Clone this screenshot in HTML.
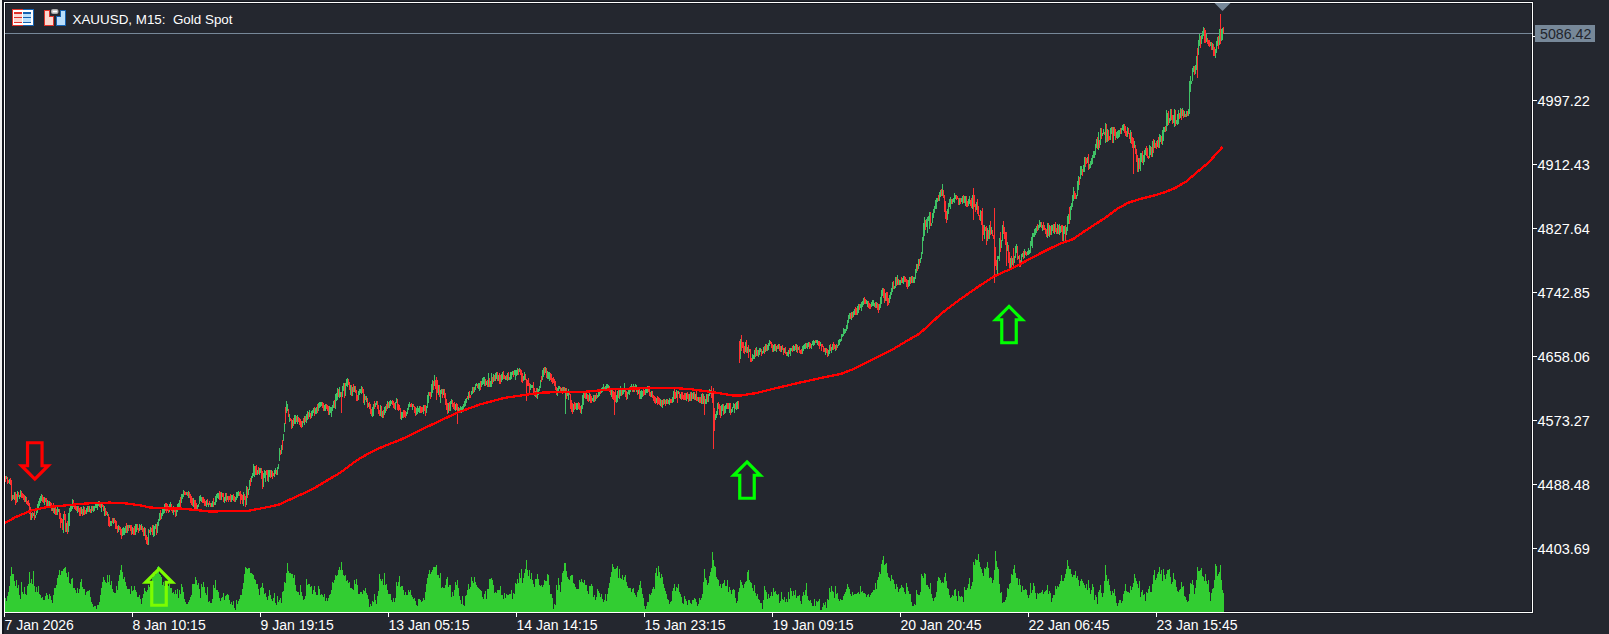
<!DOCTYPE html>
<html><head><meta charset="utf-8"><style>
html,body{margin:0;padding:0;background:#24272f;width:1609px;height:634px;overflow:hidden}
svg{display:block}
</style></head><body><svg width="1609" height="634" viewBox="0 0 1609 634">
<rect x="0" y="0" width="1609" height="634" fill="#24272f"/>
<rect x="0" y="0" width="2" height="634" fill="#f0f0f0"/>
<rect x="2" y="0" width="2" height="634" fill="#13161d"/>
<g shape-rendering="crispEdges">
<rect x="4" y="1" width="1530" height="1" fill="#15181f"/>
<rect x="5" y="3" width="1526" height="1" fill="#13161d"/>
<rect x="5" y="3" width="1" height="608" fill="#13161d"/>
<rect x="1531" y="3" width="1" height="609" fill="#13161d"/>
<rect x="5" y="611" width="1527" height="1" fill="#13161d"/>
<rect x="1533" y="1" width="1" height="613" fill="#1a1d24"/>
<rect x="4" y="613" width="1530" height="1" fill="#1a1d24"/>
</g>
<rect x="5" y="33" width="1527" height="1" fill="#778899" shape-rendering="crispEdges"/>
<path d="M5.5 598V612M6.5 601V612M7.5 596V612M8.5 592V612M9.5 586V612M10.5 576V612M11.5 567V612M12.5 574V612M13.5 574V612M14.5 581V612M15.5 586V612M16.5 580V612M17.5 588V612M18.5 585V612M19.5 595V612M20.5 599V612M21.5 582V612M22.5 592V612M23.5 594V612M24.5 587V612M25.5 594V612M26.5 595V612M27.5 586V612M28.5 584V612M29.5 572V612M30.5 583V612M31.5 579V612M32.5 584V612M33.5 571V612M34.5 586V612M35.5 592V612M36.5 587V612M37.5 592V612M38.5 586V612M39.5 594V612M40.5 595V612M41.5 598V612M42.5 597V612M43.5 600V612M44.5 600V612M45.5 596V612M46.5 593V612M47.5 595V612M48.5 599V612M49.5 594V612M50.5 596V612M51.5 600V612M52.5 603V612M53.5 595V612M54.5 588V612M55.5 588V612M56.5 585V612M57.5 578V612M58.5 575V612M59.5 570V612M60.5 575V612M61.5 571V612M62.5 571V612M63.5 569V612M64.5 568V612M65.5 567V612M66.5 573V612M67.5 577V612M68.5 572V612M69.5 583V612M70.5 584V612M71.5 579V612M72.5 578V612M73.5 588V612M74.5 588V612M75.5 590V612M76.5 593V612M77.5 588V612M78.5 593V612M79.5 589V612M80.5 582V612M81.5 579V612M82.5 587V612M83.5 589V612M84.5 589V612M85.5 595V612M86.5 592V612M87.5 591V612M88.5 591V612M89.5 590V612M90.5 597V612M91.5 602V612M92.5 604V612M93.5 607V612M94.5 606V612M95.5 606V612M96.5 609V612M97.5 605V612M98.5 605V612M99.5 602V612M100.5 595V612M101.5 588V612M102.5 582V612M103.5 577V612M104.5 580V612M105.5 582V612M106.5 583V612M107.5 575V612M108.5 582V612M109.5 575V612M110.5 585V612M111.5 581V612M112.5 589V612M113.5 592V612M114.5 593V612M115.5 593V612M116.5 586V612M117.5 590V612M118.5 581V612M119.5 575V612M120.5 570V612M121.5 565V612M122.5 572V612M123.5 579V612M124.5 577V612M125.5 582V612M126.5 586V612M127.5 589V612M128.5 589V612M129.5 589V612M130.5 594V612M131.5 586V612M132.5 591V612M133.5 590V612M134.5 586V612M135.5 590V612M136.5 592V612M137.5 597V612M138.5 597V612M139.5 595V612M140.5 599V612M141.5 604V612M142.5 598V612M143.5 594V612M144.5 588V612M145.5 591V612M146.5 592V612M147.5 590V612M148.5 585V612M149.5 587V612M150.5 583V612M151.5 582V612M152.5 578V612M153.5 572V612M154.5 574V612M155.5 575V612M156.5 572V612M157.5 567V612M158.5 566V612M159.5 574V612M160.5 575V612M161.5 577V612M162.5 585V612M163.5 582V612M164.5 586V612M165.5 590V612M166.5 584V612M167.5 585V612M168.5 586V612M169.5 584V612M170.5 588V612M171.5 588V612M172.5 593V612M173.5 592V612M174.5 594V612M175.5 590V612M176.5 594V612M177.5 589V612M178.5 598V612M179.5 590V612M180.5 594V612M181.5 584V612M182.5 587V612M183.5 592V612M184.5 599V612M185.5 602V612M186.5 604V612M187.5 604V612M188.5 602V612M189.5 600V612M190.5 597V612M191.5 595V612M192.5 584V612M193.5 584V612M194.5 584V612M195.5 577V612M196.5 580V612M197.5 585V612M198.5 583V612M199.5 589V612M200.5 598V612M201.5 584V612M202.5 587V612M203.5 582V612M204.5 587V612M205.5 593V612M206.5 595V612M207.5 587V612M208.5 602V612M209.5 601V612M210.5 603V612M211.5 603V612M212.5 599V612M213.5 585V612M214.5 588V612M215.5 580V612M216.5 590V612M217.5 590V612M218.5 592V612M219.5 598V612M220.5 601V612M221.5 598V612M222.5 597V612M223.5 593V612M224.5 600V612M225.5 596V612M226.5 595V612M227.5 594V612M228.5 595V612M229.5 600V612M230.5 604V612M231.5 602V612M232.5 605V612M233.5 601V612M234.5 608V612M235.5 610V612M236.5 600V612M237.5 604V612M238.5 601V612M239.5 599V612M240.5 595V612M241.5 595V612M242.5 589V612M243.5 583V612M244.5 574V612M245.5 567V612M246.5 568V612M247.5 569V612M248.5 568V612M249.5 568V612M250.5 573V612M251.5 573V612M252.5 574V612M253.5 575V612M254.5 579V612M255.5 580V612M256.5 584V612M257.5 584V612M258.5 589V612M259.5 595V612M260.5 588V612M261.5 587V612M262.5 583V612M263.5 588V612M264.5 594V612M265.5 593V612M266.5 597V612M267.5 600V612M268.5 596V612M269.5 590V612M270.5 595V612M271.5 599V612M272.5 601V612M273.5 598V612M274.5 593V612M275.5 603V612M276.5 605V612M277.5 596V612M278.5 602V612M279.5 600V612M280.5 598V612M281.5 603V612M282.5 592V612M283.5 591V612M284.5 582V612M285.5 583V612M286.5 573V612M287.5 563V612M288.5 571V612M289.5 573V612M290.5 573V612M291.5 574V612M292.5 574V612M293.5 578V612M294.5 575V612M295.5 585V612M296.5 591V612M297.5 592V612M298.5 592V612M299.5 595V612M300.5 585V612M301.5 592V612M302.5 596V612M303.5 600V612M304.5 599V612M305.5 596V612M306.5 579V612M307.5 585V612M308.5 584V612M309.5 584V612M310.5 587V612M311.5 586V612M312.5 594V612M313.5 590V612M314.5 586V612M315.5 592V612M316.5 595V612M317.5 595V612M318.5 586V612M319.5 589V612M320.5 595V612M321.5 594V612M322.5 595V612M323.5 597V612M324.5 594V612M325.5 601V612M326.5 598V612M327.5 601V612M328.5 598V612M329.5 595V612M330.5 594V612M331.5 590V612M332.5 582V612M333.5 583V612M334.5 580V612M335.5 575V612M336.5 576V612M337.5 575V612M338.5 570V612M339.5 567V612M340.5 570V612M341.5 562V612M342.5 570V612M343.5 575V612M344.5 576V612M345.5 575V612M346.5 581V612M347.5 580V612M348.5 583V612M349.5 582V612M350.5 588V612M351.5 588V612M352.5 589V612M353.5 590V612M354.5 580V612M355.5 584V612M356.5 579V612M357.5 585V612M358.5 594V612M359.5 594V612M360.5 592V612M361.5 592V612M362.5 594V612M363.5 590V612M364.5 591V612M365.5 588V612M366.5 593V612M367.5 595V612M368.5 599V612M369.5 607V612M370.5 604V612M371.5 606V612M372.5 601V612M373.5 602V612M374.5 594V612M375.5 600V612M376.5 604V612M377.5 596V612M378.5 591V612M379.5 574V612M380.5 579V612M381.5 581V612M382.5 579V612M383.5 585V612M384.5 573V612M385.5 585V612M386.5 584V612M387.5 590V612M388.5 594V612M389.5 594V612M390.5 594V612M391.5 600V612M392.5 602V612M393.5 598V612M394.5 602V612M395.5 598V612M396.5 582V612M397.5 586V612M398.5 582V612M399.5 576V612M400.5 587V612M401.5 586V612M402.5 586V612M403.5 590V612M404.5 595V612M405.5 592V612M406.5 595V612M407.5 595V612M408.5 590V612M409.5 592V612M410.5 590V612M411.5 595V612M412.5 597V612M413.5 599V612M414.5 598V612M415.5 601V612M416.5 605V612M417.5 606V612M418.5 599V612M419.5 599V612M420.5 600V612M421.5 602V612M422.5 601V612M423.5 598V612M424.5 600V612M425.5 592V612M426.5 584V612M427.5 578V612M428.5 574V612M429.5 570V612M430.5 574V612M431.5 572V612M432.5 570V612M433.5 567V612M434.5 567V612M435.5 567V612M436.5 565V612M437.5 575V612M438.5 575V612M439.5 578V612M440.5 573V612M441.5 588V612M442.5 587V612M443.5 588V612M444.5 588V612M445.5 585V612M446.5 579V612M447.5 577V612M448.5 587V612M449.5 585V612M450.5 585V612M451.5 597V612M452.5 592V612M453.5 596V612M454.5 590V612M455.5 582V612M456.5 585V612M457.5 580V612M458.5 588V612M459.5 596V612M460.5 600V612M461.5 604V612M462.5 596V612M463.5 605V612M464.5 606V612M465.5 596V612M466.5 595V612M467.5 590V612M468.5 584V612M469.5 589V612M470.5 587V612M471.5 577V612M472.5 581V612M473.5 583V612M474.5 577V612M475.5 582V612M476.5 585V612M477.5 587V612M478.5 588V612M479.5 589V612M480.5 590V612M481.5 591V612M482.5 597V612M483.5 599V612M484.5 594V612M485.5 591V612M486.5 599V612M487.5 589V612M488.5 589V612M489.5 579V612M490.5 579V612M491.5 578V612M492.5 580V612M493.5 585V612M494.5 593V612M495.5 592V612M496.5 593V612M497.5 590V612M498.5 590V612M499.5 590V612M500.5 586V612M501.5 595V612M502.5 595V612M503.5 599V612M504.5 593V612M505.5 598V612M506.5 594V612M507.5 595V612M508.5 595V612M509.5 594V612M510.5 594V612M511.5 590V612M512.5 599V612M513.5 593V612M514.5 594V612M515.5 583V612M516.5 584V612M517.5 579V612M518.5 583V612M519.5 573V612M520.5 578V612M521.5 569V612M522.5 583V612M523.5 578V612M524.5 573V612M525.5 569V612M526.5 560V612M527.5 570V612M528.5 576V612M529.5 570V612M530.5 579V612M531.5 573V612M532.5 580V612M533.5 584V612M534.5 587V612M535.5 579V612M536.5 579V612M537.5 574V612M538.5 579V612M539.5 585V612M540.5 586V612M541.5 585V612M542.5 587V612M543.5 585V612M544.5 580V612M545.5 581V612M546.5 581V612M547.5 574V612M548.5 575V612M549.5 585V612M550.5 594V612M551.5 594V612M552.5 598V612M553.5 609V612M554.5 604V612M555.5 605V612M556.5 585V612M557.5 590V612M558.5 578V612M559.5 585V612M560.5 592V612M561.5 582V612M562.5 573V612M563.5 571V612M564.5 563V612M565.5 563V612M566.5 571V612M567.5 577V612M568.5 579V612M569.5 580V612M570.5 576V612M571.5 575V612M572.5 575V612M573.5 583V612M574.5 584V612M575.5 587V612M576.5 589V612M577.5 589V612M578.5 589V612M579.5 580V612M580.5 582V612M581.5 579V612M582.5 582V612M583.5 583V612M584.5 580V612M585.5 585V612M586.5 585V612M587.5 591V612M588.5 594V612M589.5 586V612M590.5 586V612M591.5 584V612M592.5 586V612M593.5 597V612M594.5 595V612M595.5 600V612M596.5 597V612M597.5 589V612M598.5 591V612M599.5 593V612M600.5 597V612M601.5 594V612M602.5 599V612M603.5 602V612M604.5 600V612M605.5 594V612M606.5 601V612M607.5 594V612M608.5 588V612M609.5 583V612M610.5 577V612M611.5 572V612M612.5 564V612M613.5 567V612M614.5 569V612M615.5 569V612M616.5 568V612M617.5 566V612M618.5 578V612M619.5 569V612M620.5 578V612M621.5 579V612M622.5 575V612M623.5 580V612M624.5 577V612M625.5 575V612M626.5 582V612M627.5 586V612M628.5 588V612M629.5 588V612M630.5 588V612M631.5 592V612M632.5 589V612M633.5 588V612M634.5 593V612M635.5 595V612M636.5 597V612M637.5 592V612M638.5 590V612M639.5 585V612M640.5 581V612M641.5 588V612M642.5 594V612M643.5 598V612M644.5 606V612M645.5 609V612M646.5 606V612M647.5 602V612M648.5 602V612M649.5 594V612M650.5 595V612M651.5 593V612M652.5 589V612M653.5 587V612M654.5 589V612M655.5 573V612M656.5 568V612M657.5 576V612M658.5 566V612M659.5 572V612M660.5 578V612M661.5 574V612M662.5 577V612M663.5 584V612M664.5 588V612M665.5 591V612M666.5 594V612M667.5 599V612M668.5 600V612M669.5 604V612M670.5 602V612M671.5 601V612M672.5 591V612M673.5 588V612M674.5 584V612M675.5 591V612M676.5 587V612M677.5 588V612M678.5 584V612M679.5 592V612M680.5 594V612M681.5 597V612M682.5 603V612M683.5 604V612M684.5 596V612M685.5 599V612M686.5 601V612M687.5 605V612M688.5 600V612M689.5 600V612M690.5 603V612M691.5 604V612M692.5 600V612M693.5 600V612M694.5 598V612M695.5 599V612M696.5 602V612M697.5 606V612M698.5 604V612M699.5 598V612M700.5 600V612M701.5 598V612M702.5 594V612M703.5 582V612M704.5 569V612M705.5 578V612M706.5 580V612M707.5 585V612M708.5 583V612M709.5 576V612M710.5 572V612M711.5 568V612M712.5 552V612M713.5 560V612M714.5 566V612M715.5 567V612M716.5 577V612M717.5 579V612M718.5 580V612M719.5 586V612M720.5 584V612M721.5 588V612M722.5 584V612M723.5 583V612M724.5 580V612M725.5 586V612M726.5 586V612M727.5 580V612M728.5 592V612M729.5 587V612M730.5 590V612M731.5 594V612M732.5 590V612M733.5 589V612M734.5 590V612M735.5 598V612M736.5 603V612M737.5 601V612M738.5 592V612M739.5 588V612M740.5 580V612M741.5 582V612M742.5 585V612M743.5 588V612M744.5 584V612M745.5 582V612M746.5 581V612M747.5 572V612M748.5 570V612M749.5 580V612M750.5 582V612M751.5 583V612M752.5 588V612M753.5 591V612M754.5 585V612M755.5 593V612M756.5 596V612M757.5 594V612M758.5 599V612M759.5 600V612M760.5 603V612M761.5 603V612M762.5 609V612M763.5 600V612M764.5 586V612M765.5 590V612M766.5 592V612M767.5 599V612M768.5 594V612M769.5 598V612M770.5 596V612M771.5 592V612M772.5 596V612M773.5 588V612M774.5 592V612M775.5 591V612M776.5 594V612M777.5 595V612M778.5 594V612M779.5 603V612M780.5 601V612M781.5 592V612M782.5 599V612M783.5 600V612M784.5 597V612M785.5 602V612M786.5 599V612M787.5 602V612M788.5 592V612M789.5 599V612M790.5 588V612M791.5 591V612M792.5 596V612M793.5 591V612M794.5 595V612M795.5 590V612M796.5 598V612M797.5 596V612M798.5 596V612M799.5 595V612M800.5 601V612M801.5 604V612M802.5 596V612M803.5 592V612M804.5 595V612M805.5 590V612M806.5 583V612M807.5 596V612M808.5 600V612M809.5 601V612M810.5 600V612M811.5 603V612M812.5 606V612M813.5 606V612M814.5 599V612M815.5 606V612M816.5 601V612M817.5 602V612M818.5 601V612M819.5 599V612M820.5 610V612M821.5 610V612M822.5 607V612M823.5 603V612M824.5 605V612M825.5 602V612M826.5 608V612M827.5 599V612M828.5 600V612M829.5 588V612M830.5 592V612M831.5 586V612M832.5 591V612M833.5 592V612M834.5 598V612M835.5 586V612M836.5 594V612M837.5 593V612M838.5 599V612M839.5 601V612M840.5 599V612M841.5 600V612M842.5 600V612M843.5 596V612M844.5 594V612M845.5 592V612M846.5 589V612M847.5 584V612M848.5 587V612M849.5 589V612M850.5 594V612M851.5 596V612M852.5 592V612M853.5 595V612M854.5 594V612M855.5 594V612M856.5 594V612M857.5 593V612M858.5 592V612M859.5 594V612M860.5 586V612M861.5 592V612M862.5 591V612M863.5 593V612M864.5 593V612M865.5 594V612M866.5 597V612M867.5 595V612M868.5 594V612M869.5 597V612M870.5 595V612M871.5 593V612M872.5 592V612M873.5 590V612M874.5 590V612M875.5 583V612M876.5 589V612M877.5 580V612M878.5 577V612M879.5 572V612M880.5 574V612M881.5 564V612M882.5 560V612M883.5 556V612M884.5 565V612M885.5 564V612M886.5 563V612M887.5 573V612M888.5 577V612M889.5 578V612M890.5 581V612M891.5 575V612M892.5 579V612M893.5 580V612M894.5 584V612M895.5 589V612M896.5 584V612M897.5 587V612M898.5 592V612M899.5 589V612M900.5 588V612M901.5 585V612M902.5 587V612M903.5 588V612M904.5 592V612M905.5 594V612M906.5 583V612M907.5 587V612M908.5 591V612M909.5 594V612M910.5 594V612M911.5 602V612M912.5 606V612M913.5 606V612M914.5 604V612M915.5 605V612M916.5 590V612M917.5 594V612M918.5 595V612M919.5 595V612M920.5 592V612M921.5 574V612M922.5 576V612M923.5 578V612M924.5 573V612M925.5 574V612M926.5 585V612M927.5 585V612M928.5 587V612M929.5 589V612M930.5 583V612M931.5 594V612M932.5 598V612M933.5 601V612M934.5 598V612M935.5 597V612M936.5 592V612M937.5 581V612M938.5 577V612M939.5 578V612M940.5 580V612M941.5 583V612M942.5 582V612M943.5 583V612M944.5 577V612M945.5 573V612M946.5 581V612M947.5 588V612M948.5 589V612M949.5 595V612M950.5 598V612M951.5 597V612M952.5 595V612M953.5 596V612M954.5 590V612M955.5 589V612M956.5 596V612M957.5 601V612M958.5 591V612M959.5 596V612M960.5 597V612M961.5 596V612M962.5 597V612M963.5 602V612M964.5 587V612M965.5 590V612M966.5 590V612M967.5 588V612M968.5 584V612M969.5 578V612M970.5 589V612M971.5 586V612M972.5 582V612M973.5 562V612M974.5 565V612M975.5 559V612M976.5 560V612M977.5 560V612M978.5 554V612M979.5 562V612M980.5 567V612M981.5 569V612M982.5 573V612M983.5 576V612M984.5 568V612M985.5 569V612M986.5 567V612M987.5 562V612M988.5 568V612M989.5 578V612M990.5 577V612M991.5 578V612M992.5 583V612M993.5 580V612M994.5 570V612M995.5 551V612M996.5 561V612M997.5 567V612M998.5 569V612M999.5 584V612M1000.5 593V612M1001.5 592V612M1002.5 603V612M1003.5 602V612M1004.5 602V612M1005.5 600V612M1006.5 597V612M1007.5 588V612M1008.5 589V612M1009.5 584V612M1010.5 583V612M1011.5 574V612M1012.5 575V612M1013.5 569V612M1014.5 565V612M1015.5 573V612M1016.5 578V612M1017.5 578V612M1018.5 585V612M1019.5 579V612M1020.5 585V612M1021.5 592V612M1022.5 586V612M1023.5 590V612M1024.5 590V612M1025.5 589V612M1026.5 590V612M1027.5 595V612M1028.5 598V612M1029.5 595V612M1030.5 583V612M1031.5 593V612M1032.5 590V612M1033.5 583V612M1034.5 586V612M1035.5 593V612M1036.5 599V612M1037.5 593V612M1038.5 594V612M1039.5 593V612M1040.5 593V612M1041.5 592V612M1042.5 590V612M1043.5 594V612M1044.5 592V612M1045.5 591V612M1046.5 590V612M1047.5 585V612M1048.5 594V612M1049.5 591V612M1050.5 593V612M1051.5 602V612M1052.5 598V612M1053.5 595V612M1054.5 595V612M1055.5 586V612M1056.5 589V612M1057.5 586V612M1058.5 587V612M1059.5 584V612M1060.5 581V612M1061.5 575V612M1062.5 581V612M1063.5 581V612M1064.5 578V612M1065.5 574V612M1066.5 569V612M1067.5 560V612M1068.5 566V612M1069.5 569V612M1070.5 569V612M1071.5 574V612M1072.5 577V612M1073.5 575V612M1074.5 575V612M1075.5 571V612M1076.5 578V612M1077.5 576V612M1078.5 580V612M1079.5 586V612M1080.5 581V612M1081.5 579V612M1082.5 581V612M1083.5 583V612M1084.5 585V612M1085.5 588V612M1086.5 584V612M1087.5 590V612M1088.5 580V612M1089.5 588V612M1090.5 594V612M1091.5 590V612M1092.5 584V612M1093.5 587V612M1094.5 600V612M1095.5 595V612M1096.5 597V612M1097.5 604V612M1098.5 592V612M1099.5 590V612M1100.5 585V612M1101.5 593V612M1102.5 597V612M1103.5 593V612M1104.5 581V612M1105.5 565V612M1106.5 575V612M1107.5 581V612M1108.5 579V612M1109.5 585V612M1110.5 591V612M1111.5 595V612M1112.5 591V612M1113.5 593V612M1114.5 589V612M1115.5 596V612M1116.5 603V612M1117.5 606V612M1118.5 603V612M1119.5 600V612M1120.5 600V612M1121.5 603V612M1122.5 601V612M1123.5 594V612M1124.5 591V612M1125.5 584V612M1126.5 591V612M1127.5 592V612M1128.5 592V612M1129.5 593V612M1130.5 586V612M1131.5 590V612M1132.5 587V612M1133.5 583V612M1134.5 574V612M1135.5 578V612M1136.5 581V612M1137.5 584V612M1138.5 588V612M1139.5 581V612M1140.5 597V612M1141.5 592V612M1142.5 590V612M1143.5 595V612M1144.5 594V612M1145.5 601V612M1146.5 592V612M1147.5 593V612M1148.5 589V612M1149.5 586V612M1150.5 592V612M1151.5 592V612M1152.5 584V612M1153.5 575V612M1154.5 570V612M1155.5 580V612M1156.5 578V612M1157.5 574V612M1158.5 572V612M1159.5 567V612M1160.5 574V612M1161.5 570V612M1162.5 581V612M1163.5 569V612M1164.5 575V612M1165.5 579V612M1166.5 574V612M1167.5 570V612M1168.5 570V612M1169.5 569V612M1170.5 577V612M1171.5 584V612M1172.5 582V612M1173.5 573V612M1174.5 579V612M1175.5 580V612M1176.5 587V612M1177.5 591V612M1178.5 592V612M1179.5 590V612M1180.5 589V612M1181.5 582V612M1182.5 587V612M1183.5 586V612M1184.5 596V612M1185.5 597V612M1186.5 600V612M1187.5 602V612M1188.5 601V612M1189.5 594V612M1190.5 583V612M1191.5 584V612M1192.5 580V612M1193.5 585V612M1194.5 594V612M1195.5 588V612M1196.5 580V612M1197.5 567V612M1198.5 571V612M1199.5 571V612M1200.5 570V612M1201.5 568V612M1202.5 576V612M1203.5 577V612M1204.5 581V612M1205.5 574V612M1206.5 581V612M1207.5 584V612M1208.5 580V612M1209.5 592V612M1210.5 601V612M1211.5 593V612M1212.5 589V612M1213.5 588V612M1214.5 580V612M1215.5 564V612M1216.5 566V612M1217.5 576V612M1218.5 574V612M1219.5 572V612M1220.5 565V612M1221.5 580V612M1222.5 590V612M1223.5 593V612" stroke="#32cd32" stroke-width="1" fill="none" shape-rendering="crispEdges"/>
<g shape-rendering="crispEdges" stroke-width="1" fill="none">
<path d="M6.5 476V479M9.5 479V484M12.5 495V500M14.5 492V500M17.5 491V502M19.5 495V499M20.5 490V497M25.5 496V502M31.5 513V520M33.5 513V516M35.5 515V518M36.5 510V515M37.5 504V513M38.5 501V510M39.5 498V506M40.5 496V503M41.5 494V501M44.5 497V505M47.5 500V507M49.5 501V507M52.5 505V511M54.5 508V514M57.5 507V515M58.5 509V512M63.5 514V533M66.5 523V532M68.5 513V532M69.5 508V526M70.5 504V512M71.5 506V511M72.5 499V509M77.5 506V513M81.5 507V514M83.5 506V515M86.5 508V514M87.5 506V512M89.5 506V512M91.5 506V513M93.5 506V512M94.5 506V511M95.5 504V508M96.5 504V508M97.5 502V510M98.5 501V506M101.5 503V512M104.5 506V516M107.5 512V516M110.5 521V526M111.5 521V526M113.5 518V524M118.5 525V532M122.5 528V536M123.5 527V535M124.5 528V535M125.5 526V533M127.5 525V533M129.5 525V528M132.5 527V534M135.5 524V535M136.5 524V532M139.5 524V531M141.5 524V530M144.5 527V536M148.5 529V545M150.5 527V535M153.5 525V537M154.5 526V536M155.5 524V529M157.5 522V533M158.5 519V526M159.5 513V521M161.5 513V519M162.5 507V516M163.5 508V514M164.5 504V513M169.5 504V512M170.5 502V510M173.5 506V515M176.5 509V516M177.5 504V512M178.5 503V509M179.5 500V507M181.5 494V503M182.5 494V499M183.5 490V497M186.5 492V495M188.5 491V498M193.5 498V507M197.5 505V510M198.5 504V507M199.5 496V504M200.5 495V501M201.5 497V502M206.5 500V507M208.5 503V507M211.5 503V507M212.5 501V507M214.5 502V505M215.5 496V505M216.5 494V502M217.5 493V498M218.5 493V499M221.5 492V500M224.5 497V503M225.5 493V501M227.5 496V500M231.5 495V502M232.5 495V500M235.5 497V502M236.5 492V500M237.5 492V498M238.5 491V496M243.5 492V506M246.5 486V505M248.5 489V495M249.5 480V490M251.5 476V482M252.5 473V478M253.5 464V476M254.5 466V477M257.5 470V475M259.5 468V475M260.5 468V473M263.5 473V487M264.5 470V478M265.5 471V482M268.5 470V482M269.5 470V477M271.5 470V477M274.5 470V477M275.5 468V474M277.5 467V475M278.5 464V469M279.5 448V461M281.5 445V454M283.5 434V441M284.5 423V432M286.5 401V413M287.5 404V411M289.5 414V422M292.5 420V428M294.5 415V424M295.5 415V424M297.5 415V424M302.5 421V427M304.5 416V425M306.5 414V423M307.5 411V420M309.5 410V417M311.5 411V418M312.5 410V416M313.5 408V413M315.5 408V414M316.5 407V414M318.5 403V411M319.5 402V408M320.5 402V407M321.5 402V406M324.5 405V411M325.5 404V411M329.5 406V415M330.5 407V413M331.5 407V417M332.5 405V411M333.5 401V408M335.5 394V409M336.5 393V401M337.5 388V400M339.5 387V398M340.5 392V397M342.5 386V397M343.5 383V391M345.5 383V396M346.5 379V386M347.5 378V387M350.5 385V395M352.5 387V396M354.5 386V392M358.5 391V400M359.5 389V395M360.5 389V393M361.5 386V394M364.5 394V405M366.5 396V402M368.5 403V407M372.5 407V417M373.5 404V416M375.5 403V407M376.5 401V405M380.5 405V416M382.5 411V418M384.5 407V415M385.5 406V413M387.5 401V409M389.5 401V408M390.5 400V406M391.5 401V404M395.5 402V410M396.5 398V403M401.5 412V420M402.5 412V418M406.5 412V416M407.5 408V414M408.5 404V410M409.5 402V407M412.5 404V410M416.5 408V415M417.5 406V414M418.5 408V412M419.5 406V413M423.5 405V414M426.5 406V413M427.5 395V408M428.5 392V403M431.5 384V397M432.5 380V393M434.5 375V386M438.5 385V395M440.5 390V403M441.5 389V394M443.5 389V395M448.5 403V413M450.5 401V411M451.5 399V404M455.5 404V411M458.5 407V412M460.5 406V410M461.5 407V413M462.5 406V411M463.5 404V409M464.5 401V407M465.5 399V406M466.5 398V403M468.5 392V400M471.5 391V395M472.5 387V394M474.5 387V392M475.5 384V390M476.5 383V386M478.5 383V389M479.5 383V391M481.5 381V387M482.5 378V385M483.5 377V384M484.5 377V386M486.5 381V385M488.5 373V387M490.5 381V387M491.5 373V387M493.5 374V382M495.5 373V381M496.5 372V379M498.5 375V381M501.5 374V382M502.5 372V380M505.5 376V380M507.5 373V381M509.5 377V380M510.5 372V380M511.5 372V379M512.5 371V375M514.5 370V375M515.5 370V380M516.5 370V376M517.5 368V375M519.5 368V372M523.5 376V381M524.5 372V380M530.5 384V390M531.5 385V388M532.5 385V388M535.5 391V397M537.5 388V399M538.5 389V395M539.5 386V391M540.5 380V388M542.5 370V380M543.5 368V377M545.5 367V373M547.5 371V379M548.5 372V379M549.5 372V381M557.5 388V396M558.5 386V393M559.5 386V389M561.5 388V393M563.5 387V392M565.5 388V414M567.5 392V396M568.5 389V400M573.5 404V412M576.5 403V410M577.5 403V410M581.5 405V414M582.5 395V409M583.5 393V405M586.5 392V399M589.5 393V401M592.5 398V401M593.5 395V402M595.5 395V401M597.5 395V398M598.5 392V397M599.5 389V396M601.5 388V393M602.5 387V392M603.5 384V390M605.5 386V391M606.5 384V391M607.5 384V390M608.5 385V390M611.5 388V397M616.5 395V403M617.5 391V402M619.5 389V399M620.5 386V396M622.5 388V395M623.5 390V394M624.5 383V392M627.5 392V399M628.5 388V394M629.5 389V395M630.5 386V392M631.5 384V389M633.5 384V392M635.5 384V390M636.5 385V392M638.5 388V394M640.5 391V399M641.5 390V399M642.5 391V397M645.5 388V395M646.5 388V393M647.5 386V393M651.5 391V397M656.5 398V403M660.5 399V406M662.5 400V408M664.5 399V404M666.5 399V404M668.5 400V404M669.5 398V405M672.5 397V403M673.5 391V402M676.5 390V398M678.5 391V394M680.5 394V399M686.5 393V401M689.5 394V401M691.5 392V401M693.5 392V399M695.5 394V400M698.5 397V402M701.5 394V404M703.5 394V404M705.5 399V404M706.5 394V404M708.5 394V402M709.5 389V396M710.5 390V394M715.5 414V420M716.5 411V418M717.5 403V415M721.5 405V416M722.5 404V411M724.5 406V414M725.5 405V413M726.5 403V409M729.5 403V413M731.5 409V413M732.5 407V412M733.5 403V408M734.5 404V413M736.5 402V410M737.5 401V409M740.5 339V359M745.5 342V352M747.5 347V353M749.5 349V352M752.5 354V361M753.5 355V359M754.5 350V359M756.5 347V356M758.5 350V357M759.5 348V355M760.5 348V352M762.5 351V354M763.5 347V353M765.5 344V352M767.5 345V351M768.5 343V350M769.5 340V346M773.5 345V352M774.5 344V351M776.5 346V352M778.5 344V349M781.5 346V352M784.5 348V353M787.5 352V356M788.5 350V357M790.5 348V356M791.5 348V351M793.5 345V351M794.5 346V351M796.5 344V352M798.5 347V350M802.5 346V354M803.5 345V351M804.5 344V349M805.5 343V349M807.5 343V349M808.5 342V347M811.5 344V349M812.5 341V345M813.5 340V346M814.5 341V345M816.5 340V343M817.5 340V345M820.5 342V346M825.5 348V355M828.5 350V356M829.5 345V354M831.5 347V353M832.5 344V350M835.5 345V351M837.5 345V348M838.5 340V346M839.5 339V345M840.5 339V342M841.5 334V341M842.5 334V337M843.5 328V336M844.5 329V334M845.5 329V333M846.5 325V331M847.5 320V329M848.5 315V323M849.5 313V319M851.5 312V320M853.5 311V317M854.5 309V315M857.5 306V315M858.5 304V313M860.5 304V308M861.5 302V311M862.5 301V307M863.5 298V305M866.5 300V304M867.5 301V307M871.5 302V307M872.5 300V306M873.5 300V306M874.5 303V307M876.5 302V308M879.5 304V310M880.5 297V308M881.5 290V304M882.5 288V296M885.5 293V301M889.5 295V303M890.5 292V299M891.5 288V295M892.5 282V292M894.5 286V289M895.5 277V288M897.5 275V285M899.5 280V285M900.5 280V285M902.5 278V283M903.5 276V284M908.5 280V287M909.5 277V286M911.5 276V283M913.5 277V283M914.5 277V283M915.5 269V279M916.5 264V273M918.5 259V269M920.5 258V263M921.5 252V259M922.5 237V254M923.5 223V241M924.5 217V236M926.5 219V227M927.5 217V233M928.5 216V221M929.5 212V229M931.5 223V226M932.5 213V223M933.5 209V218M934.5 206V213M935.5 200V209M936.5 198V209M937.5 198V202M939.5 192V201M940.5 190V197M942.5 184V196M947.5 209V220M948.5 203V214M949.5 199V207M950.5 197V209M952.5 199V204M953.5 198V202M954.5 193V203M955.5 195V199M959.5 198V205M961.5 198V202M962.5 196V204M964.5 196V203M965.5 196V206M968.5 199V206M969.5 196V204M972.5 195V209M976.5 202V210M980.5 210V221M984.5 225V239M987.5 228V241M989.5 225V239M991.5 227V234M997.5 256V274M998.5 256V259M999.5 238V261M1001.5 240V248M1002.5 225V241M1007.5 242V251M1010.5 258V268M1012.5 258V265M1014.5 256V263M1015.5 246V258M1016.5 244V253M1018.5 256V259M1021.5 254V263M1022.5 253V257M1024.5 249V258M1027.5 251V255M1028.5 248V255M1029.5 250V254M1030.5 241V253M1031.5 237V246M1032.5 233V248M1033.5 233V237M1034.5 229V237M1035.5 228V235M1036.5 226V233M1038.5 225V230M1039.5 220V228M1040.5 222V227M1042.5 225V231M1047.5 223V238M1049.5 225V237M1051.5 225V235M1052.5 225V231M1054.5 224V234M1057.5 224V234M1059.5 224V235M1060.5 226V233M1063.5 226V241M1064.5 226V234M1066.5 227V235M1067.5 216V231M1068.5 214V224M1070.5 206V220M1071.5 203V210M1072.5 195V207M1073.5 187V201M1076.5 195V199M1077.5 181V196M1078.5 176V190M1080.5 166V179M1081.5 166V175M1083.5 165V172M1084.5 157V172M1087.5 157V163M1089.5 164V169M1090.5 161V168M1091.5 158V165M1092.5 155V164M1093.5 151V158M1094.5 151V158M1095.5 144V155M1096.5 139V148M1098.5 132V150M1100.5 128V145M1102.5 133V136M1103.5 129V134M1105.5 123V143M1107.5 129V142M1110.5 128V140M1111.5 127V134M1113.5 127V143M1116.5 132V138M1117.5 131V139M1118.5 130V138M1119.5 130V137M1121.5 128V134M1122.5 125V130M1123.5 124V131M1127.5 127V137M1130.5 130V143M1134.5 141V148M1138.5 158V172M1140.5 153V171M1141.5 153V162M1143.5 155V165M1144.5 150V162M1145.5 148V155M1149.5 145V158M1150.5 146V155M1152.5 141V157M1154.5 140V148M1157.5 140V147M1159.5 134V148M1160.5 135V142M1162.5 130V145M1163.5 127V141M1164.5 127V132M1166.5 110V131M1167.5 113V126M1169.5 118V123M1170.5 109V121M1173.5 115V123M1174.5 109V127M1176.5 120V124M1177.5 114V125M1178.5 110V124M1180.5 108V118M1182.5 108V116M1184.5 111V117M1186.5 111V117M1188.5 109V116M1189.5 81V114M1190.5 76V92M1191.5 81V84M1192.5 68V81M1193.5 66V72M1195.5 65V74M1196.5 56V70M1198.5 40V55M1199.5 34V46M1201.5 35V44M1202.5 31V39M1203.5 27V36M1206.5 34V42M1210.5 42V46M1212.5 43V50M1215.5 49V58M1216.5 41V53M1217.5 37V46M1219.5 29V45M1221.5 29V41M1222.5 28V40" stroke="#3fc266"/>
<path d="M5.5 476V482M7.5 477V484M8.5 480V483M10.5 478V485M11.5 480V501M13.5 495V499M15.5 492V505M16.5 494V503M18.5 492V497M21.5 491V498M22.5 493V498M23.5 494V500M24.5 495V502M26.5 497V504M27.5 501V505M28.5 500V506M29.5 503V514M30.5 507V520M32.5 512V518M34.5 511V520M42.5 495V502M43.5 497V503M45.5 498V502M46.5 498V506M48.5 501V507M50.5 502V507M51.5 503V511M53.5 503V513M55.5 505V515M56.5 509V515M59.5 509V519M60.5 513V528M61.5 518V523M62.5 519V530M64.5 511V520M65.5 514V532M67.5 521V534M73.5 500V507M74.5 505V509M75.5 504V510M76.5 506V511M78.5 506V512M79.5 508V516M80.5 507V516M82.5 509V516M84.5 507V515M85.5 510V514M88.5 506V512M90.5 509V513M92.5 506V511M99.5 501V507M100.5 504V508M102.5 504V507M103.5 505V511M105.5 508V516M106.5 511V515M108.5 514V526M109.5 517V527M112.5 518V523M114.5 518V523M115.5 520V529M116.5 521V529M117.5 526V533M119.5 526V530M120.5 527V535M121.5 529V539M126.5 523V533M128.5 525V531M130.5 525V531M131.5 525V535M133.5 528V535M134.5 526V535M137.5 524V530M138.5 528V533M140.5 525V530M142.5 526V532M143.5 528V536M145.5 528V540M146.5 535V544M147.5 537V545M149.5 530V533M151.5 528V532M152.5 525V535M156.5 524V535M160.5 510V520M165.5 503V511M166.5 503V513M167.5 504V511M168.5 506V513M171.5 504V511M172.5 507V513M174.5 509V512M175.5 509V517M180.5 497V508M184.5 491V495M185.5 492V495M187.5 492V496M189.5 492V498M190.5 494V503M191.5 496V505M192.5 498V506M194.5 500V509M195.5 500V511M196.5 503V511M202.5 497V503M203.5 497V503M204.5 499V506M205.5 501V506M207.5 499V505M209.5 501V505M210.5 503V507M213.5 498V507M219.5 491V500M220.5 492V500M222.5 493V497M223.5 493V502M226.5 493V502M228.5 496V502M229.5 496V500M230.5 494V502M233.5 494V501M234.5 496V502M239.5 492V496M240.5 491V504M241.5 494V500M242.5 495V504M244.5 494V500M245.5 496V507M247.5 487V498M250.5 478V486M255.5 466V475M256.5 465V475M258.5 467V474M261.5 468V479M262.5 471V489M266.5 470V475M267.5 470V481M270.5 470V478M272.5 471V479M273.5 473V476M276.5 470V475M280.5 450V455M282.5 440V450M285.5 407V424M288.5 409V417M290.5 418V421M291.5 419V429M293.5 418V426M296.5 416V422M298.5 417V422M299.5 418V425M300.5 419V427M301.5 421V428M303.5 418V423M305.5 416V422M308.5 412V419M310.5 413V419M314.5 407V416M317.5 404V413M322.5 402V408M323.5 403V411M326.5 404V409M327.5 405V411M328.5 406V415M334.5 400V408M338.5 389V397M341.5 392V413M344.5 383V398M348.5 379V385M349.5 382V390M351.5 385V396M353.5 384V392M355.5 386V393M356.5 390V401M357.5 395V401M362.5 387V393M363.5 389V403M365.5 396V400M367.5 398V408M369.5 402V409M370.5 404V414M371.5 409V416M374.5 401V409M377.5 401V409M378.5 405V414M379.5 410V416M381.5 406V417M383.5 410V418M386.5 404V411M388.5 402V408M392.5 400V405M393.5 401V408M394.5 403V409M397.5 399V410M398.5 404V411M399.5 405V410M400.5 408V419M403.5 410V418M404.5 410V417M405.5 411V418M410.5 404V407M411.5 403V407M413.5 404V407M414.5 406V413M415.5 407V416M420.5 406V413M421.5 407V413M422.5 407V412M424.5 405V411M425.5 405V416M429.5 392V396M430.5 392V399M433.5 381V390M435.5 380V389M436.5 377V400M437.5 380V393M439.5 385V397M442.5 389V398M444.5 389V398M445.5 393V405M446.5 399V410M447.5 403V414M449.5 402V411M452.5 400V407M453.5 403V409M454.5 402V410M456.5 403V410M457.5 404V424M459.5 408V411M467.5 396V399M469.5 391V398M470.5 395V398M473.5 387V393M477.5 384V388M480.5 381V390M485.5 379V386M487.5 380V387M489.5 378V387M492.5 377V384M494.5 375V381M497.5 372V381M499.5 373V384M500.5 375V384M503.5 371V379M504.5 375V379M506.5 375V380M508.5 372V380M513.5 371V377M518.5 369V375M520.5 369V375M521.5 370V382M522.5 373V383M525.5 374V380M526.5 379V401M527.5 380V386M528.5 378V386M529.5 383V393M533.5 382V394M534.5 388V396M536.5 388V398M541.5 376V382M544.5 367V375M546.5 368V378M550.5 373V380M551.5 374V382M552.5 378V384M553.5 377V383M554.5 379V386M555.5 381V390M556.5 387V395M560.5 387V392M562.5 387V394M564.5 387V393M566.5 388V399M569.5 392V395M570.5 394V409M571.5 400V412M572.5 403V414M574.5 402V410M575.5 403V409M578.5 402V409M579.5 403V410M580.5 406V413M584.5 392V398M585.5 391V399M587.5 394V401M588.5 395V402M590.5 394V403M591.5 396V403M594.5 395V402M596.5 393V399M600.5 389V394M604.5 387V390M609.5 386V392M610.5 388V395M612.5 389V399M613.5 391V400M614.5 392V415M615.5 390V402M618.5 390V398M621.5 388V396M625.5 388V397M626.5 391V400M632.5 386V392M634.5 386V392M637.5 387V395M639.5 389V399M643.5 389V396M644.5 390V395M648.5 386V392M649.5 386V396M650.5 392V397M652.5 391V398M653.5 395V401M654.5 396V403M655.5 397V404M657.5 396V405M658.5 397V404M659.5 398V405M661.5 400V407M663.5 399V405M665.5 400V406M667.5 399V404M670.5 399V403M671.5 399V403M674.5 389V399M675.5 392V399M677.5 391V403M679.5 392V398M681.5 392V400M682.5 392V399M683.5 395V400M684.5 393V400M685.5 393V400M687.5 392V399M688.5 394V402M690.5 392V401M692.5 393V399M694.5 392V400M696.5 390V401M697.5 397V401M699.5 397V403M700.5 397V403M702.5 393V404M704.5 396V415M707.5 394V402M711.5 386V398M712.5 393V403M713.5 388V449M714.5 408V431M718.5 402V409M719.5 404V415M720.5 406V418M723.5 404V415M727.5 403V409M728.5 403V409M730.5 403V415M735.5 403V409M738.5 401V409M739.5 341V363M741.5 335V351M742.5 342V348M743.5 342V353M744.5 346V354M746.5 340V353M748.5 345V358M750.5 349V362M751.5 358V362M755.5 348V357M757.5 350V356M761.5 349V356M764.5 346V354M766.5 344V351M770.5 341V344M771.5 342V348M772.5 344V352M775.5 344V351M777.5 345V349M779.5 344V351M780.5 346V352M782.5 345V350M783.5 348V355M785.5 347V354M786.5 352V356M789.5 348V354M792.5 346V352M795.5 344V350M797.5 345V353M799.5 346V353M800.5 350V354M801.5 349V354M806.5 343V348M809.5 342V349M810.5 343V348M815.5 340V343M818.5 341V346M819.5 341V349M821.5 344V351M822.5 344V347M823.5 346V352M824.5 348V352M826.5 348V353M827.5 349V357M830.5 344V351M833.5 342V350M834.5 344V349M836.5 344V350M850.5 313V319M852.5 312V318M855.5 307V315M856.5 308V315M859.5 304V310M864.5 297V304M865.5 299V304M868.5 301V308M869.5 303V309M870.5 304V309M875.5 302V308M877.5 303V310M878.5 304V313M883.5 288V298M884.5 289V303M886.5 292V301M887.5 292V306M888.5 298V305M893.5 281V289M896.5 277V286M898.5 279V285M901.5 277V283M904.5 276V282M905.5 277V282M906.5 279V287M907.5 280V289M910.5 277V284M912.5 276V283M917.5 264V271M919.5 259V266M925.5 220V230M930.5 212V226M938.5 195V201M941.5 189V196M943.5 190V198M944.5 195V212M945.5 201V219M946.5 211V223M951.5 199V204M956.5 195V200M957.5 196V199M958.5 198V205M960.5 198V204M963.5 195V203M966.5 196V207M967.5 201V207M970.5 200V206M971.5 198V208M973.5 188V220M974.5 195V207M975.5 204V212M977.5 199V214M978.5 206V216M979.5 215V220M981.5 211V225M982.5 208V241M983.5 225V235M985.5 227V231M986.5 226V245M988.5 230V239M990.5 221V235M992.5 230V236M993.5 235V239M994.5 208V283M995.5 247V266M996.5 260V270M1000.5 232V252M1003.5 221V234M1004.5 227V239M1005.5 232V245M1006.5 232V266M1008.5 245V263M1009.5 252V268M1011.5 256V267M1013.5 248V267M1017.5 246V260M1019.5 255V267M1020.5 260V267M1023.5 251V259M1025.5 251V255M1026.5 252V256M1037.5 224V231M1041.5 222V228M1043.5 222V230M1044.5 225V230M1045.5 228V234M1046.5 229V237M1048.5 223V236M1050.5 226V235M1053.5 224V233M1055.5 222V232M1056.5 228V234M1058.5 225V234M1061.5 225V232M1062.5 225V241M1065.5 225V241M1069.5 207V224M1074.5 191V199M1075.5 193V199M1079.5 177V185M1082.5 169V176M1085.5 157V167M1086.5 158V164M1088.5 154V170M1097.5 137V149M1099.5 140V148M1101.5 128V139M1104.5 132V135M1106.5 124V142M1108.5 130V141M1109.5 136V140M1112.5 127V143M1114.5 127V136M1115.5 129V140M1120.5 128V134M1124.5 124V133M1125.5 126V136M1126.5 131V137M1128.5 128V134M1129.5 133V139M1131.5 132V144M1132.5 137V148M1133.5 138V174M1135.5 145V154M1136.5 149V162M1137.5 155V172M1139.5 158V169M1142.5 151V163M1146.5 146V156M1147.5 148V158M1148.5 156V159M1151.5 147V157M1153.5 139V153M1155.5 143V148M1156.5 141V149M1158.5 137V148M1161.5 136V144M1165.5 126V132M1168.5 111V125M1171.5 109V120M1172.5 115V124M1175.5 110V126M1179.5 113V119M1181.5 109V120M1183.5 110V118M1185.5 114V117M1187.5 111V116M1194.5 66V75M1197.5 48V78M1200.5 36V48M1204.5 28V43M1205.5 30V43M1207.5 38V44M1208.5 40V46M1209.5 40V47M1211.5 42V50M1213.5 44V56M1214.5 47V56M1218.5 36V49M1220.5 14V44M1223.5 27V34" stroke="#ff3030"/>
</g>
<path d="M5.0 523.0 L15.8 517.0 L31.5 510.5 L47.0 507.0 L63.0 505.7 L79.0 504.0 L94.6 503.0 L110.0 502.6 L126.0 503.4 L142.0 505.7 L150.0 507.5 L165.0 508.3 L181.5 508.6 L210.0 511.5 L240.0 511.0 L248.8 510.7 L259.0 508.8 L277.9 505.0 L290.5 499.3 L303.0 493.6 L315.7 487.3 L328.3 479.7 L341.0 472.2 L353.6 462.7 L360.0 458.3 L372.5 451.4 L385.0 445.7 L400.0 440.0 L430.0 425.5 L456.5 413.0 L480.0 404.4 L504.0 398.0 L527.5 394.5 L543.0 392.6 L567.0 391.8 L585.0 391.8 L611.5 389.2 L651.0 388.0 L674.6 388.0 L690.4 389.2 L714.0 392.3 L734.0 395.6 L740.0 395.6 L755.5 393.2 L776.8 388.0 L798.0 383.0 L819.4 378.3 L840.7 374.0 L855.0 368.4 L869.0 361.3 L883.4 354.1 L893.5 349.0 L907.3 340.6 L919.5 333.7 L942.0 313.0 L959.4 299.8 L976.7 287.7 L994.0 276.4 L1011.4 268.6 L1028.8 259.5 L1040.0 253.5 L1051.0 248.0 L1062.0 243.0 L1073.0 239.2 L1084.2 231.4 L1095.2 224.3 L1106.3 217.1 L1117.3 208.8 L1128.3 202.7 L1131.0 201.8 L1142.0 198.5 L1153.0 195.8 L1164.0 192.5 L1175.2 188.0 L1186.3 181.4 L1197.3 172.0 L1208.4 162.6 L1222.7 146.8" fill="none" stroke="#ff0000" stroke-width="2.3" stroke-linejoin="round" shape-rendering="crispEdges"/>
<path d="M34.80 479.05 L48.10 465.75 L42.05 465.75 L42.05 442.75 L27.55 442.75 L27.55 465.75 L21.50 465.75Z" fill="none" stroke="#ff0000" stroke-width="3.2" stroke-linejoin="miter"/>
<path d="M747.00 461.95 L760.30 475.25 L754.25 475.25 L754.25 498.25 L739.75 498.25 L739.75 475.25 L733.70 475.25Z" fill="none" stroke="#00ff00" stroke-width="3.2" stroke-linejoin="miter"/>
<path d="M1009.00 306.45 L1022.30 319.75 L1016.25 319.75 L1016.25 342.75 L1001.75 342.75 L1001.75 319.75 L995.70 319.75Z" fill="none" stroke="#00ff00" stroke-width="3.2" stroke-linejoin="miter"/>
<path d="M159.00 568.95 L172.30 582.25 L166.25 582.25 L166.25 605.25 L151.75 605.25 L151.75 582.25 L145.70 582.25Z" fill="none" stroke="#7cfc00" stroke-width="3.2" stroke-linejoin="miter"/>
<path d="M1214.5 3 L1230.5 3 L1222.5 11 Z" fill="#778899"/>
<g fill="#ffffff" shape-rendering="crispEdges">
<rect x="4" y="2" width="1529" height="1"/>
<rect x="4" y="2" width="1" height="611"/>
<rect x="1532" y="2" width="1" height="611"/>
<rect x="4" y="612" width="1529" height="1"/>
<rect x="1533" y="100" width="4" height="1"/>
<rect x="1533" y="164" width="4" height="1"/>
<rect x="1533" y="228" width="4" height="1"/>
<rect x="1533" y="292" width="4" height="1"/>
<rect x="1533" y="356" width="4" height="1"/>
<rect x="1533" y="420" width="4" height="1"/>
<rect x="1533" y="484" width="4" height="1"/>
<rect x="1533" y="548" width="4" height="1"/>
<rect x="1533" y="36" width="2" height="1"/>
<rect x="4" y="613" width="1" height="4"/>
<rect x="132" y="613" width="1" height="4"/>
<rect x="260" y="613" width="1" height="4"/>
<rect x="388" y="613" width="1" height="4"/>
<rect x="516" y="613" width="1" height="4"/>
<rect x="644" y="613" width="1" height="4"/>
<rect x="772" y="613" width="1" height="4"/>
<rect x="900" y="613" width="1" height="4"/>
<rect x="1028" y="613" width="1" height="4"/>
<rect x="1156" y="613" width="1" height="4"/>
</g>
<rect x="1535" y="25" width="60" height="17" fill="#778899"/>
<g font-family="Liberation Sans, sans-serif" font-size="14.5px" fill="#ffffff">
<text x="1537.5" y="106">4997.22</text>
<text x="1537.5" y="170">4912.43</text>
<text x="1537.5" y="234">4827.64</text>
<text x="1537.5" y="298">4742.85</text>
<text x="1537.5" y="362">4658.06</text>
<text x="1537.5" y="426">4573.27</text>
<text x="1537.5" y="490">4488.48</text>
<text x="1537.5" y="554">4403.69</text>
<text x="1540" y="39" fill="#22252c" font-size="14.2px">5086.42</text>
<text x="4.5" y="630" font-size="14px">7 Jan 2026</text>
<text x="132.5" y="630" font-size="14px">8 Jan 10:15</text>
<text x="260.5" y="630" font-size="14px">9 Jan 19:15</text>
<text x="388.5" y="630" font-size="14px">13 Jan 05:15</text>
<text x="516.5" y="630" font-size="14px">14 Jan 14:15</text>
<text x="644.5" y="630" font-size="14px">15 Jan 23:15</text>
<text x="772.5" y="630" font-size="14px">19 Jan 09:15</text>
<text x="900.5" y="630" font-size="14px">20 Jan 20:45</text>
<text x="1028.5" y="630" font-size="14px">22 Jan 06:45</text>
<text x="1156.5" y="630" font-size="14px">23 Jan 15:45</text>
<text x="72.5" y="24" font-size="13.4px">XAUUSD, M15:&#160; Gold Spot</text>
</g>
<g shape-rendering="crispEdges">
<rect x="12" y="9" width="11" height="17" fill="#e0352b"/>
<rect x="23" y="9" width="11" height="17" fill="#1662b0"/>
<rect x="13" y="10" width="20" height="15" fill="#ffffff"/>
<rect x="14" y="12" width="8" height="2" fill="#e0302a"/>
<rect x="14" y="17" width="8" height="1" fill="#e0302a"/>
<rect x="14" y="22" width="8" height="1" fill="#e0302a"/>
<rect x="14" y="14" width="8" height="3" fill="#fbd6d0"/>
<rect x="14" y="18" width="8" height="4" fill="#fbd6d0"/>
<rect x="23" y="12" width="8" height="2" fill="#1662b0"/>
<rect x="23" y="17" width="8" height="1" fill="#1662b0"/>
<rect x="23" y="22" width="8" height="1" fill="#1662b0"/>
<rect x="23" y="14" width="8" height="3" fill="#bde0fb"/>
<rect x="23" y="18" width="8" height="4" fill="#bde0fb"/>
<path d="M44 10 H50 V16 H54 V26 H44 Z" fill="#e0352b"/>
<path d="M45 11 H49 V17 H53 V25 H45 Z" fill="#fdd9cf"/>
<path d="M60 10 H66 V26 H56 V16 H60 Z" fill="#1662b0"/>
<path d="M61 11 H65 V25 H57 V17 H61 Z" fill="#b9defc"/>
</g>
<rect x="51" y="9" width="7.5" height="5" rx="2" fill="#a8a8a8"/>
<rect x="52" y="10" width="5.5" height="3" rx="1" fill="#cfcfcf"/>
<rect x="53" y="11" width="4" height="1" fill="#ffffff" shape-rendering="crispEdges"/>
</svg></body></html>
